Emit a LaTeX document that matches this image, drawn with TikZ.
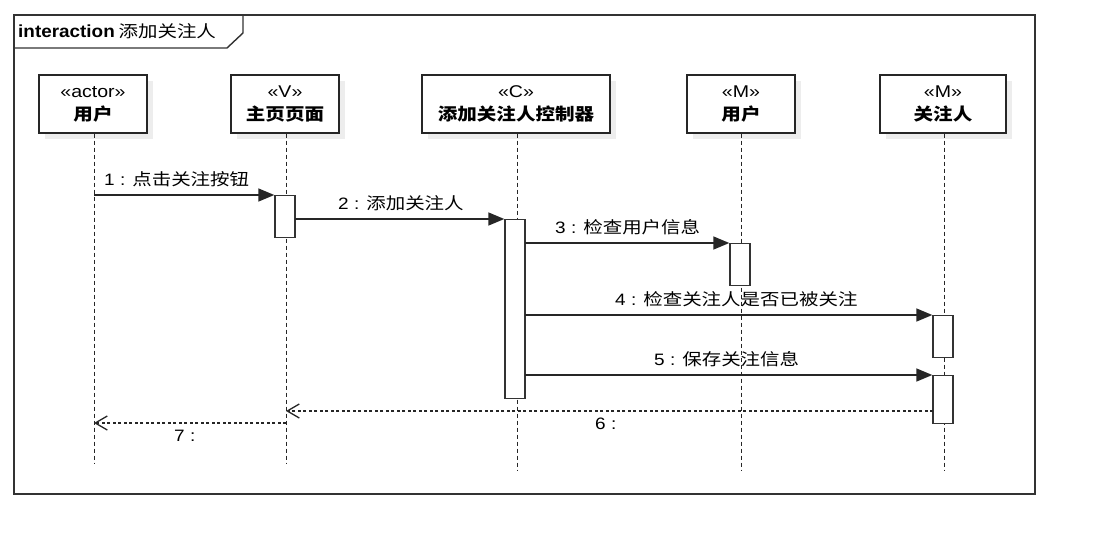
\documentclass[tikz,border=0pt]{standalone}
\usepackage{fontspec}
\setmainfont{Liberation Sans}
\newfontfamily\latw{Liberation Sans}[FakeStretch=1.15]
\newfontfamily\latT{Liberation Sans}[FakeStretch=1.08]
\newfontfamily\cjk{Noto Sans CJK SC}[FakeStretch=1.18]
\newfontfamily\cjkh{Noto Sans CJK SC}[FakeStretch=1.15]
\usetikzlibrary{arrows.meta,shadows}
\newcommand{\msgtxt}[2]{{\latw #1}{\cjk #2}}
\begin{document}
\begin{tikzpicture}[x=1pt,y=-1pt,
  framel/.style={draw=black!80, line width=1.4pt},
  headbox/.style={draw=black!85, line width=1.4pt, fill=white, minimum height=58pt, inner sep=0pt,
     drop shadow={shadow xshift=6pt, shadow yshift=-6pt, fill=black!7, opacity=1}},
  stereo/.style={anchor=base, inner sep=0pt, font=\latw\fontsize{17}{20}\selectfont},
  hname/.style={anchor=base, inner sep=0pt, font=\fontsize{17}{20}\selectfont\cjkh\bfseries},
  lifeline/.style={draw=black!85, line width=0.9pt, dash pattern=on 4pt off 3pt},
  actbar/.style={draw=black!80, line width=1.4pt, fill=white, minimum width=20pt, inner sep=0pt, anchor=north},
  call/.style={draw=black!85, line width=1.5pt, -{Triangle[length=16pt,width=13pt]}},
  ret/.style={draw=black!85, line width=1.5pt, dash pattern=on 3pt off 2.5pt,
     -{Straight Barb[length=12pt,width=14pt,line width=1.3pt]}},
  msglbl/.style={anchor=base west, inner sep=0pt, font=\fontsize{16.5}{19}\selectfont},
]
\useasboundingbox (0,0) rectangle (1095,555);
\fill[white] (0,0) rectangle (1095,555);

% frame
\draw[framel] (14,15) rectangle (1035,494);
\draw[framel] (14,15) -- (243,15) -- (243,33) -- (227,48) -- (14,48);
\node[anchor=base west, inner sep=0pt] (ftitle) at (18,37)
  {{\latT\fontsize{17.5}{20}\selectfont\bfseries interaction}\hspace{1pt} {\cjk\fontsize{16.5}{20}\selectfont 添加关注人}};

% heads
\node[headbox, minimum width=108pt] (h1) at (93,104) {};
\node[headbox, minimum width=108pt] (h2) at (285,104) {};
\node[headbox, minimum width=188pt] (h3) at (516,104) {};
\node[headbox, minimum width=108pt] (h4) at (741,104) {};
\node[headbox, minimum width=126pt] (h5) at (943,104) {};

\node[stereo] (s1) at (93,97.5) {«actor»};
\node[hname] (n1) at (93,120) {用户};
\node[stereo] (s2) at (285,97.5) {«V»};
\node[hname] (n2) at (285,120) {主页页面};
\node[stereo] (s3) at (516,97.5) {«C»};
\node[hname] (n3) at (516,120) {添加关注人控制器};
\node[stereo] (s4) at (741,97.5) {«M»};
\node[hname] (n4) at (741,120) {用户};
\node[stereo] (s5) at (943,97.5) {«M»};
\node[hname] (n5) at (943,120) {关注人};

% lifelines
\coordinate (e1) at (94,463);
\coordinate (e2) at (286,463);
\coordinate (e3) at (517,470);
\coordinate (e4) at (741,470);
\coordinate (e5) at (944,470);
\draw[lifeline] (h1.south -| e1) -- (e1);
\draw[lifeline] (h2.south -| e2) -- (e2);
\draw[lifeline] (h3.south -| e3) -- (e3);
\draw[lifeline] (h4.south -| e4) -- (e4);
\draw[lifeline] (h5.south -| e5) -- (e5);

% activation bars
\node[actbar, minimum height=42pt] (a1) at (285,195) {};
\node[actbar, minimum height=179pt] (a2) at (515,219) {};
\node[actbar, minimum height=42pt] (a3) at (740,243) {};
\node[actbar, minimum height=42pt] (a4) at (943,315) {};
\node[actbar, minimum height=48pt] (a5) at (943,375) {};

% messages
\coordinate (m1s) at (94,195);
\draw[call] (m1s) -- (a1.north west);
\node[msglbl] (l1) at (104,185) {\msgtxt{1 : }{点击关注按钮}};

\coordinate (m2s) at (295,219);
\draw[call] (m2s) -- (a2.north west);
\node[msglbl] (l2) at (338,209) {\msgtxt{2 : }{添加关注人}};

\coordinate (m3s) at (525,243);
\draw[call] (m3s) -- (a3.north west);
\node[msglbl] (l3) at (555,233) {\msgtxt{3 : }{检查用户信息}};

\coordinate (m4s) at (525,315);
\draw[call] (m4s) -- (a4.north west);
\node[msglbl] (l4) at (615,305) {\msgtxt{4 : }{检查关注人是否已被关注}};

\coordinate (m5s) at (525,375);
\draw[call] (m5s) -- (a5.north west);
\node[msglbl] (l5) at (654,365) {\msgtxt{5 : }{保存关注信息}};

\coordinate (m6s) at (933,411);
\coordinate (m6e) at (286,411);
\draw[ret] (m6s) -- (m6e);
\node[msglbl] (l6) at (595,429.5) {\msgtxt{6 :}{}};

\coordinate (m7s) at (286,423);
\coordinate (m7e) at (94,423);
\draw[ret] (m7s) -- (m7e);
\node[msglbl] (l7) at (174,441.5) {\msgtxt{7 :}{}};
\end{tikzpicture}
\end{document}
